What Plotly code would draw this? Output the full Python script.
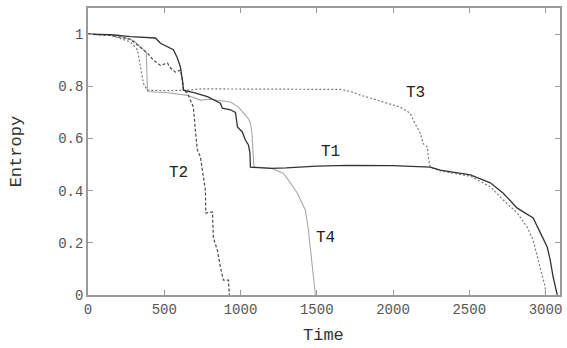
import plotly.graph_objects as go

# ---- data ----
t1_x = [0, 150, 278, 344, 442, 475, 521, 560, 586, 606, 619, 626, 700, 783, 868, 881, 934, 967,
        980, 1012, 1032, 1052, 1062, 1065, 1200, 1300, 1500, 1700, 2000, 2244, 2310, 2507, 2638,
        2723, 2815, 2919, 2965, 3011, 3031, 3050, 3077]
t1_y = [1.0, 0.998, 0.99, 0.988, 0.985, 0.965, 0.95, 0.94, 0.908, 0.874, 0.824, 0.785, 0.775,
        0.76, 0.735, 0.716, 0.71, 0.70, 0.644, 0.625, 0.594, 0.575, 0.544, 0.49, 0.485, 0.487,
        0.494, 0.497, 0.496, 0.49, 0.479, 0.46, 0.43, 0.39, 0.333, 0.295, 0.24, 0.184, 0.134,
        0.069, 0.0]

t2_x = [0, 150, 278, 324, 364, 390, 429, 475, 521, 541, 573, 606, 619, 626, 652, 691, 704, 717,
        737, 750, 770, 772, 816, 822, 849, 868, 888, 921, 927]
t2_y = [1.0, 0.995, 0.98, 0.958, 0.94, 0.927, 0.9, 0.88, 0.889, 0.87, 0.854, 0.862, 0.824, 0.785,
        0.774, 0.72, 0.632, 0.556, 0.53, 0.47, 0.40, 0.314, 0.318, 0.22, 0.17, 0.107, 0.057, 0.057,
        0.0]

t3_x = [0, 150, 278, 324, 364, 390, 520, 652, 737, 1000, 1300, 1655, 1720, 1786, 1897, 2048, 2113,
        2133, 2179, 2198, 2225, 2231, 2244, 2310, 2507, 2638, 2723, 2815, 2880, 2919, 2952, 2978,
        2998, 3000]
t3_y = [1.0, 0.995, 0.97, 0.94, 0.81, 0.785, 0.783, 0.785, 0.79, 0.79, 0.788, 0.788, 0.78, 0.766,
        0.747, 0.72, 0.697, 0.67, 0.62, 0.58, 0.567, 0.53, 0.49, 0.476, 0.455, 0.415, 0.364, 0.314,
        0.26, 0.21, 0.134, 0.069, 0.03, 0.0]

t4_x = [0, 200, 300, 370, 382, 390, 520, 652, 737, 800, 868, 934, 987, 1046, 1065, 1075, 1085,
        1088, 1196, 1281, 1327, 1373, 1393, 1425, 1445, 1471, 1478, 1491]
t4_y = [1.0, 0.995, 0.975, 0.935, 0.93, 0.78, 0.775, 0.765, 0.747, 0.75, 0.745, 0.74, 0.72, 0.68,
        0.66, 0.62, 0.52, 0.49, 0.487, 0.467, 0.43, 0.39, 0.364, 0.326, 0.25, 0.12, 0.07, 0.0]

labels = ["T1", "T2", "T3", "T4"]
label_x = [1589, 593, 2146, 1556]
label_y = [0.548, 0.467, 0.774, 0.218]

x_ticks = [0, 500, 1000, 1500, 2000, 2500, 3000]
y_ticks = [0, 0.2, 0.4, 0.6, 0.8, 1.0]
y_ticktext = ["0", "0.2", "0.4", "0.6", "0.8", "1"]

MONO = "Liberation Mono, Courier New, monospace"

fig = go.Figure()
fig.add_trace(go.Scatter(x=t4_x, y=t4_y, mode="lines", name="T4",
                         line=dict(color="#a8a8a8", width=1.1)))
fig.add_trace(go.Scatter(x=t3_x, y=t3_y, mode="lines", name="T3",
                         line=dict(color="#7a7a7a", width=1.2, dash="2px,2px")))
fig.add_trace(go.Scatter(x=t2_x, y=t2_y, mode="lines", name="T2",
                         line=dict(color="#4a4a4a", width=1.2, dash="3px,2px")))
fig.add_trace(go.Scatter(x=t1_x, y=t1_y, mode="lines", name="T1",
                         line=dict(color="#333333", width=1.3)))

for txt, lx, ly in zip(labels, label_x, label_y):
    fig.add_annotation(x=lx, y=ly, text=txt, showarrow=False,
                       font=dict(family=MONO, size=16, color="#222"))

# axis titles
fig.add_annotation(xref="paper", yref="paper", x=0.498, y=-0.18, text="Time",
                   showarrow=False, xanchor="center", yanchor="bottom",
                   font=dict(family=MONO, size=17, color="#333"))
fig.add_annotation(xref="paper", yref="paper", x=-0.152, y=0.498, text="Entropy",
                   showarrow=False, xanchor="center", yanchor="middle", textangle=-90,
                   font=dict(family=MONO, size=17, color="#333"))

axis_common = dict(showline=True, mirror="ticks", linecolor="#9a9a9a", linewidth=1.5,
                   ticks="inside", ticklen=5, tickcolor="#9a9a9a", tickwidth=1,
                   showgrid=False, zeroline=False, automargin=False,
                   tickfont=dict(family=MONO, size=14, color="#555"))

fig.update_xaxes(range=[0, 3095], tickvals=x_ticks, **axis_common)
fig.update_yaxes(range=[0, 1.1], tickvals=y_ticks, ticktext=y_ticktext, **axis_common)

fig.update_layout(width=567, height=348, showlegend=False,
                  paper_bgcolor="white", plot_bgcolor="white",
                  margin=dict(l=88, r=7, t=8, b=53))

# remove the default page margin so the figure fills the window exactly
fig.write_html("out.html",
               config={"displayModeBar": False},
               post_script="document.body.style.margin='0';"
                           "document.body.style.overflow='hidden';")
